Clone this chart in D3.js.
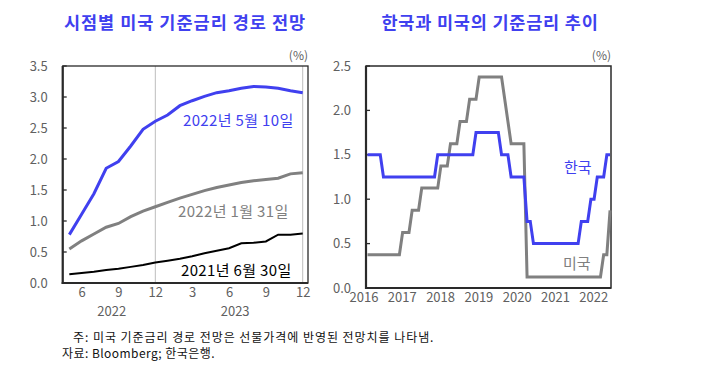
<!DOCTYPE html>
<html>
<head>
<meta charset="utf-8">
<script src="https://cdn.jsdelivr.net/npm/d3@7"></script>
<style>
  html, body { margin: 0; padding: 0; background: #fff; }
  svg { display: block; font-family: "Noto Sans CJK KR", "Noto Sans", sans-serif; }
</style>
</head>
<body>
<svg id="chart" width="710" height="368"></svg>
<script>
// ---------------- DATA ----------------
// Left panel: Fed funds rate path implied by futures, at three observation dates
const leftMonths = ["2022-05","2022-06","2022-07","2022-08","2022-09","2022-10","2022-11","2022-12",
  "2023-01","2023-02","2023-03","2023-04","2023-05","2023-06","2023-07","2023-08","2023-09","2023-10","2023-11","2023-12"];
const pathMay2022 = [0.78,1.11,1.44,1.85,1.96,2.21,2.48,2.61,2.71,2.86,2.94,3.01,3.07,3.10,3.14,3.17,3.16,3.14,3.10,3.07];
const pathJan2022 = [0.55,0.68,0.79,0.90,0.96,1.07,1.16,1.23,1.30,1.37,1.43,1.49,1.54,1.58,1.62,1.65,1.67,1.69,1.76,1.78];
const pathJun2021 = [0.14,0.16,0.18,0.21,0.23,0.26,0.29,0.33,0.36,0.39,0.43,0.48,0.52,0.56,0.64,0.65,0.67,0.78,0.78,0.80];
const leftTickIdx = [1,4,7,10,13,16,19];
const leftTickLabels = ["6","9","12","3","6","9","12"];
const leftYearLabels = ["2022","2023"];
const leftYearIdx = [3.45,13.5];
const leftYTicks = [0,0.5,1.0,1.5,2.0,2.5,3.0,3.5];
const leftSeriesNames = ["2022년 5월 10일","2022년 1월 31일","2021년 6월 30일"];

// Right panel: monthly policy rates, Jan 2016 – May 2022
const rightStart = "2016-01";
const usRate = [
  0.375,0.375,0.375,0.375,0.375,0.375,0.375,0.375,0.375,0.375,0.375,0.625,
  0.625,0.625,0.875,0.875,0.875,1.125,1.125,1.125,1.125,1.125,1.125,1.375,
  1.375,1.375,1.625,1.625,1.625,1.875,1.875,1.875,2.125,2.125,2.125,2.375,
  2.375,2.375,2.375,2.375,2.375,2.375,2.375,2.125,1.875,1.625,1.625,1.625,
  1.625,1.625,0.125,0.125,0.125,0.125,0.125,0.125,0.125,0.125,0.125,0.125,
  0.125,0.125,0.125,0.125,0.125,0.125,0.125,0.125,0.125,0.125,0.125,0.125,
  0.125,0.125,0.375,0.375,0.875];
const koreaRate = [
  1.50,1.50,1.50,1.50,1.50,1.25,1.25,1.25,1.25,1.25,1.25,1.25,
  1.25,1.25,1.25,1.25,1.25,1.25,1.25,1.25,1.25,1.25,1.50,1.50,
  1.50,1.50,1.50,1.50,1.50,1.50,1.50,1.50,1.50,1.50,1.75,1.75,
  1.75,1.75,1.75,1.75,1.75,1.75,1.50,1.50,1.50,1.25,1.25,1.25,
  1.25,1.25,0.75,0.75,0.50,0.50,0.50,0.50,0.50,0.50,0.50,0.50,
  0.50,0.50,0.50,0.50,0.50,0.50,0.50,0.75,0.75,0.75,1.00,1.00,
  1.25,1.25,1.25,1.50,1.50];
const rightYearLabels = ["2016","2017","2018","2019","2020","2021","2022"];
const rightYTicks = [0,0.5,1.0,1.5,2.0,2.5];
const rightSeriesNames = ["한국","미국"];

const titleLeft = "시점별 미국 기준금리 경로 전망";
const titleRight = "한국과 미국의 기준금리 추이";
const note1 = "주: 미국 기준금리 경로 전망은 선물가격에 반영된 전망치를 나타냄.";
const note2 = "자료: Bloomberg; 한국은행.";

// ---------------- STYLE ----------------
const BLUE = "#4040ef";
const GRAY = "#808080";
const TICK = "#606060";
const FRAME = "#2a2a2a";

const svg = d3.select("#chart");

// ---------------- LEFT PANEL ----------------
{
  const L = {x0: 62.7, x1: 308, y0: 66, y1: 283};
  const x = d3.scaleLinear().domain([-0.54, 19.43]).range([L.x0, L.x1]);
  const y = d3.scaleLinear().domain([0, 3.5]).range([L.y1, L.y0]);
  const g = svg.append("g");

  g.append("text").attr("x", 185).attr("y", 29).attr("text-anchor", "middle")
    .attr("font-size", 17.5).attr("font-weight", 700).attr("letter-spacing", 1).attr("fill", BLUE).text(titleLeft);
  g.append("text").attr("x", 308).attr("y", 60).attr("text-anchor", "end")
    .attr("font-size", 12).attr("fill", TICK).text("(%)");

  // year-end separators
  [7, 19].forEach(i => {
    g.append("line").attr("x1", x(i)).attr("x2", x(i)).attr("y1", L.y0).attr("y2", L.y1)
      .attr("stroke", "#bdbdbd").attr("stroke-width", 1);
  });

  // frame
  g.append("rect").attr("x", L.x0).attr("y", L.y0).attr("width", L.x1 - L.x0).attr("height", L.y1 - L.y0)
    .attr("fill", "none").attr("stroke", FRAME).attr("stroke-width", 1.3);

  // y axis
  const yAxis = d3.axisLeft(y).tickValues(leftYTicks).tickFormat(d3.format(".1f")).tickSize(0).tickPadding(15);
  const ya = g.append("g").attr("transform", `translate(${L.x0},0)`).call(yAxis);
  ya.select(".domain").remove();
  ya.selectAll("text").attr("font-size", 13).attr("fill", TICK).attr("font-family", "'Noto Sans CJK KR'");
  leftYTicks.forEach(v => {
    g.append("line").attr("x1", L.x0).attr("x2", L.x0 + 4).attr("y1", y(v)).attr("y2", y(v))
      .attr("stroke", FRAME).attr("stroke-width", 1.3);
  });

  // x axis labels
  const xAxis = d3.axisBottom(x).tickValues(leftTickIdx)
    .tickFormat((d, i) => leftTickLabels[i]).tickSize(0).tickPadding(5);
  const xa = g.append("g").attr("transform", `translate(0,${L.y1})`).call(xAxis);
  xa.select(".domain").remove();
  xa.selectAll("text").attr("font-size", 13).attr("fill", TICK).attr("font-family", "'Noto Sans CJK KR'");
  leftYearLabels.forEach((t, i) => {
    g.append("text").attr("x", x(leftYearIdx[i])).attr("y", 316).attr("text-anchor", "middle")
      .attr("font-size", 13).attr("fill", TICK).text(t);
  });

  // axis lines (thicker left & bottom)
  g.append("line").attr("x1", L.x0).attr("x2", L.x0).attr("y1", L.y0).attr("y2", L.y1 + 1)
    .attr("stroke", FRAME).attr("stroke-width", 2.2);
  g.append("line").attr("x1", L.x0 - 1).attr("x2", L.x1).attr("y1", L.y1).attr("y2", L.y1)
    .attr("stroke", FRAME).attr("stroke-width", 2.2);

  const line = d3.line().x((d, i) => x(i)).y(d => y(d));
  g.append("path").datum(pathJun2021).attr("d", line).attr("fill", "none")
    .attr("stroke", "#000").attr("stroke-width", 2);
  g.append("path").datum(pathJan2022).attr("d", line).attr("fill", "none")
    .attr("stroke", GRAY).attr("stroke-width", 3);
  g.append("path").datum(pathMay2022).attr("d", line).attr("fill", "none")
    .attr("stroke", BLUE).attr("stroke-width", 3);

  g.append("text").attr("x", 183).attr("y", 126).attr("font-size", 15).attr("letter-spacing", 0.35).attr("fill", BLUE).text(leftSeriesNames[0]);
  g.append("text").attr("x", 178).attr("y", 217).attr("font-size", 15).attr("letter-spacing", 0.35).attr("fill", GRAY).text(leftSeriesNames[1]);
  g.append("text").attr("x", 181).attr("y", 276).attr("font-size", 15).attr("letter-spacing", 0.35).attr("fill", "#000").text(leftSeriesNames[2]);
}

// ---------------- RIGHT PANEL ----------------
{
  const R = {x0: 366, x1: 611, y0: 66, y1: 288};
  const x = d3.scaleLinear().domain([-0.47, 76.3]).range([R.x0, R.x1]);
  const y = d3.scaleLinear().domain([0, 2.5]).range([R.y1, R.y0]);
  const g = svg.append("g");

  g.append("text").attr("x", 490).attr("y", 29).attr("text-anchor", "middle")
    .attr("font-size", 17.5).attr("font-weight", 700).attr("letter-spacing", 0.8).attr("fill", BLUE).text(titleRight);
  g.append("text").attr("x", 611).attr("y", 60).attr("text-anchor", "end")
    .attr("font-size", 12).attr("fill", TICK).text("(%)");

  g.append("rect").attr("x", R.x0).attr("y", R.y0).attr("width", R.x1 - R.x0).attr("height", R.y1 - R.y0)
    .attr("fill", "none").attr("stroke", FRAME).attr("stroke-width", 1.5);

  const yAxis = d3.axisLeft(y).tickValues(rightYTicks).tickFormat(d3.format(".1f")).tickSize(0).tickPadding(15);
  const ya = g.append("g").attr("transform", `translate(${R.x0},0)`).call(yAxis);
  ya.select(".domain").remove();
  ya.selectAll("text").attr("font-size", 13).attr("fill", TICK).attr("font-family", "'Noto Sans CJK KR'");
  rightYTicks.forEach(v => {
    g.append("line").attr("x1", R.x0).attr("x2", R.x0 + 4).attr("y1", y(v)).attr("y2", y(v))
      .attr("stroke", FRAME).attr("stroke-width", 1.3);
  });

  const startYear = +rightStart.slice(0, 4);
  const xAxis = d3.axisBottom(x).tickValues(rightYearLabels.map(t => (+t - startYear) * 12))
    .tickFormat((d, i) => rightYearLabels[i]).tickSize(0).tickPadding(5);
  const xa = g.append("g").attr("transform", `translate(-4,${R.y1})`).call(xAxis);
  xa.select(".domain").remove();
  xa.selectAll("text").attr("font-size", 13).attr("fill", TICK).attr("font-family", "'Noto Sans CJK KR'");

  g.append("line").attr("x1", R.x0).attr("x2", R.x0).attr("y1", R.y0).attr("y2", R.y1 + 1)
    .attr("stroke", FRAME).attr("stroke-width", 2.2);
  g.append("line").attr("x1", R.x0 - 1).attr("x2", R.x1).attr("y1", R.y1).attr("y2", R.y1)
    .attr("stroke", FRAME).attr("stroke-width", 2.2);

  const line = d3.line().x((d, i) => x(i)).y(d => y(d));
  g.append("path").datum(usRate).attr("d", line).attr("fill", "none")
    .attr("stroke", GRAY).attr("stroke-width", 3);
  g.append("path").datum(koreaRate).attr("d", line).attr("fill", "none")
    .attr("stroke", BLUE).attr("stroke-width", 3);

  g.append("text").attr("x", 564).attr("y", 173).attr("font-size", 15).attr("fill", BLUE).text(rightSeriesNames[0]);
  g.append("text").attr("x", 563).attr("y", 269).attr("font-size", 15).attr("fill", GRAY).text(rightSeriesNames[1]);
}

// ---------------- NOTES ----------------
svg.append("text").attr("x", 73).attr("y", 342).attr("font-size", 12).attr("letter-spacing", 0.95)
  .attr("fill", "#111").text(note1);
svg.append("text").attr("x", 62).attr("y", 358).attr("font-size", 12).attr("letter-spacing", 0.45)
  .attr("fill", "#111").text(note2);
</script>
</body>
</html>
